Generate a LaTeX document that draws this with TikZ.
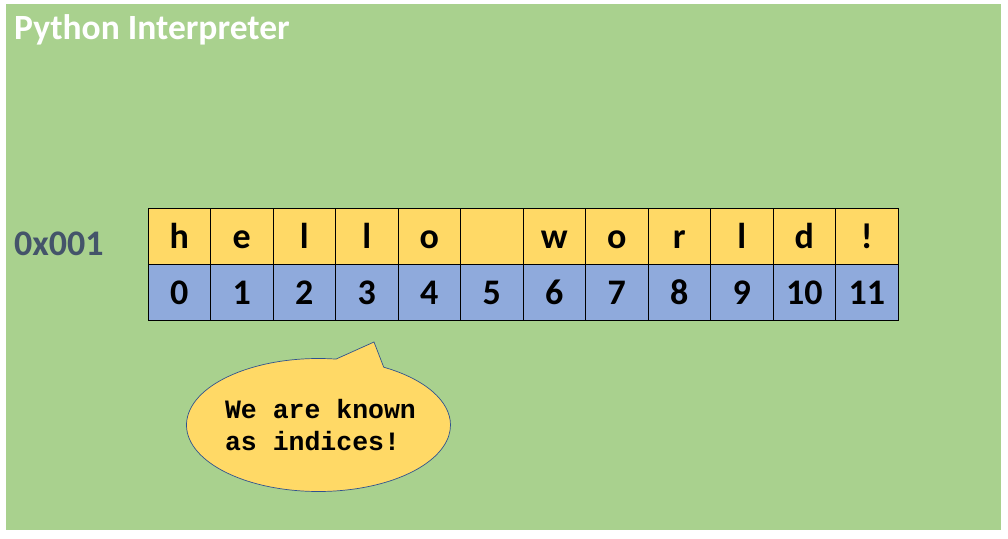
\documentclass[tikz,border=0pt]{standalone}
\usepackage{fontspec}
\setmainfont{Carlito}
\newfontfamily\codefont{Liberation Mono}
\usepackage{xcolor}
\usetikzlibrary{positioning, shapes.callouts}
\definecolor{bggreen}{HTML}{A9D18E}
\definecolor{cellyellow}{HTML}{FFD966}
\definecolor{cellblue}{HTML}{8FAADC}
\definecolor{addrslate}{HTML}{44546A}
\definecolor{bubbleline}{HTML}{2F528F}

\begin{document}
\begin{tikzpicture}[
  x=1pt, y=-1pt,
  cell/.style={rectangle, draw=black, line width=1pt, inner sep=0pt,
               minimum width=62.5pt, minimum height=56pt,
               text height=24pt, text depth=0pt,
               font=\fontsize{36}{40}\selectfont\bfseries},
  charcell/.style={cell, fill=cellyellow},
  idxcell/.style={cell, fill=cellblue},
  bubble/.style={ellipse callout, draw=bubbleline, fill=cellyellow,
                 line width=0.7pt, inner sep=-12pt,
                 minimum width=264pt, minimum height=133pt,
                 callout pointer arc=22, align=left,
                 font=\codefont\fontsize{26.5}{32}\selectfont\bfseries}
]
  \useasboundingbox (0,0) rectangle (1008,538);
  % ── Background ─────────────────────────────────────────────────────────────
  \fill[bggreen] (6,4) rectangle (1001,530);
  \node[anchor=base west, inner sep=0pt, text=white,
        font=\fontsize{35.5}{40}\selectfont\bfseries] (title) at (14,39)
    {Python Interpreter};

  % ── Address ────────────────────────────────────────────────────────────────
  \node[anchor=base west, inner sep=0pt, text=addrslate,
        font=\fontsize{36}{40}\selectfont\bfseries] (addr) at (14,255)
    {0x001};

  % ── Characters and indices ─────────────────────────────────────────────────
  \foreach \ch [count=\i from 0] in {h,e,l,l,o,{},w,o,r,l,d,!} {
    \node[charcell] (c\i) at ({179.25+62.5*\i}, 236) {\ch};
    \node[idxcell]  (i\i) at ({179.25+62.5*\i}, 292) {\i};
  }

  % ── Speech bubble ──────────────────────────────────────────────────────────
  \node[bubble, callout absolute pointer={(374,342)}] (note) at (318.5,425)
    {\hspace*{4pt}We are known\\\hspace*{4pt}as indices!};
\end{tikzpicture}
\end{document}
